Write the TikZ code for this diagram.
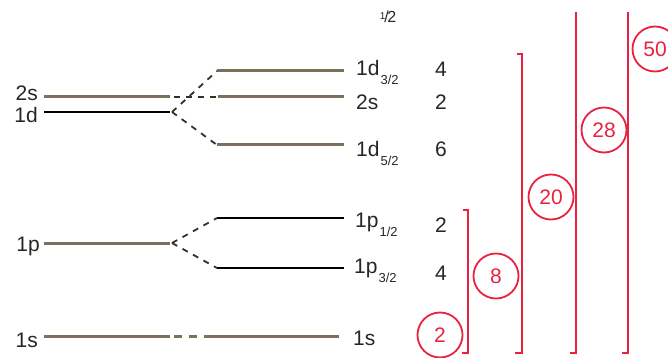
\documentclass[tikz,border=0pt]{standalone}
\usepackage{fontspec}
\setmainfont{Liberation Sans}
\definecolor{lvl}{RGB}{122,112,92}
\definecolor{txt}{RGB}{40,38,34}
\definecolor{magic}{RGB}{232,34,64}
\newcommand\fsub[1]{\kern1pt\raisebox{-9pt}{\fontsize{13}{13}\selectfont #1}}
\begin{document}
\begin{tikzpicture}[x=1pt,y=-1pt,
  thick level/.style={draw=lvl,line width=3pt},
  thin level/.style={draw=black,line width=1.4pt},
  split/.style={draw=txt!85!lvl,line width=1.8pt,dash pattern=on 6pt off 6pt},
  lab/.style={text=txt,font=\fontsize{21}{24}\selectfont,inner sep=0pt},
  num/.style={text=txt,font=\fontsize{21}{24}\selectfont,inner sep=0pt,anchor=base},
  magicc/.style={circle,draw=magic,line width=1.8pt,minimum size=45pt,inner sep=0pt,text=magic,font=\fontsize{21}{24}\selectfont},
  brk/.style={draw=magic,line width=2pt}]
\useasboundingbox (0,0) rectangle (668,358);
% left levels
\coordinate (L2sa) at (44,97);  \coordinate (L2sb) at (170,97);
\coordinate (L1da) at (44,112); \coordinate (L1db) at (170,112);
\coordinate (L1pa) at (44,243); \coordinate (L1pb) at (170,243);
\coordinate (L1sa) at (44,336); \coordinate (L1sb) at (170,336);
% right levels
\coordinate (Rd3a) at (217,71);  \coordinate (Rd3b) at (344,71);
\coordinate (R2sa) at (218,97);  \coordinate (R2sb) at (344,97);
\coordinate (Rd5a) at (217,145); \coordinate (Rd5b) at (344,145);
\coordinate (Rp1a) at (217,218); \coordinate (Rp1b) at (344,218);
\coordinate (Rp3a) at (217,268); \coordinate (Rp3b) at (344,268);
\coordinate (R1sa) at (205,336); \coordinate (R1sb) at (339,336);
\coordinate (D1d) at (172,112);
\coordinate (D1p) at (172,243);
% lines
\draw[thick level] (L2sa) -- (L2sb);
\draw[thin level] (L1da) -- (L1db);
\draw[thick level] (L1pa) -- (L1pb);
\draw[thick level] (L1sa) -- (L1sb);
\draw[thick level] (Rd3a) -- (Rd3b);
\draw[thick level] (R2sa) -- (R2sb);
\draw[thick level] (Rd5a) -- (Rd5b);
\draw[thin level] (Rp1a) -- (Rp1b);
\draw[thin level] (Rp3a) -- (Rp3b);
\draw[thick level] (R1sa) -- (R1sb);
% splitting
\draw[split,dash phase=-4pt] (L2sb) -- (R2sa);
\draw[split] (D1d) -- (Rd3a);
\draw[split] (D1d) -- (Rd5a);
\draw[split] (D1p) -- (Rp1a);
\draw[split] (D1p) -- (Rp3a);
\draw[draw=lvl,line width=3pt,dash pattern=on 8pt off 7pt,dash phase=-4pt] (L1sb) -- (R1sa);
% left labels
\node[lab,anchor=base east] (t2s) at (38,101) {2s};
\node[lab,anchor=base east] (t1d) at (38,123) {1d};
\node[lab,anchor=base east] (t1p) at (40,251) {1p};
\node[lab,anchor=base east] (t1s) at (38,347) {1s};
% right labels
\node[lab,anchor=base west] (rd3) at (356,76) {1d\fsub{3/2}};
\node[lab,anchor=base west] (r2s) at (356,110) {2s};
\node[lab,anchor=base west] (rd5) at (356,157) {1d\fsub{5/2}};
\node[lab,anchor=base west] (rp1) at (355,227) {1p\fsub{1/2}};
\node[lab,anchor=base west] (rp3) at (354,273) {1p\fsub{3/2}};
\node[lab,anchor=base west] (r1s) at (353,345) {1s};
% occupancies
\node[num] (n4a) at (441,77) {4};
\node[num] (n2a) at (441,110) {2};
\node[num] (n6) at (441,157) {6};
\node[num] (n2b) at (441,232) {2};
\node[num] (n4b) at (441,280) {4};
% stray fraction
\node[text=txt,inner sep=0pt,font=\fontsize{16}{16}\selectfont] (half) at (388,17) {\raisebox{3pt}{\fontsize{10}{10}\selectfont 1}\kern-1pt/\kern-1.5pt2};
% brackets
\coordinate (b8t) at (463,210); \coordinate (b8u) at (468,210);
\coordinate (b8v) at (468,353); \coordinate (b8w) at (462,353);
\draw[brk] (b8t) -- (b8u) -- (b8v) -- (b8w);
\coordinate (b20t) at (517,54); \coordinate (b20u) at (522,54);
\coordinate (b20v) at (522,353); \coordinate (b20w) at (515,353);
\draw[brk] (b20t) -- (b20u) -- (b20v) -- (b20w);
\coordinate (b28u) at (576,12); \coordinate (b28v) at (576,353); \coordinate (b28w) at (570,353);
\draw[brk] (b28u) -- (b28v) -- (b28w);
\coordinate (b50u) at (628,12); \coordinate (b50v) at (628,353); \coordinate (b50w) at (622,353);
\draw[brk] (b50u) -- (b50v) -- (b50w);
% magic numbers
\node[magicc] (m2) at (440,335) {2};
\node[magicc] (m8) at (496,276) {8};
\node[magicc] (m20) at (551,197) {20};
\node[magicc] (m28) at (604,130) {28};
\node[magicc] (m50) at (655,49) {50};
\end{tikzpicture}
\end{document}
